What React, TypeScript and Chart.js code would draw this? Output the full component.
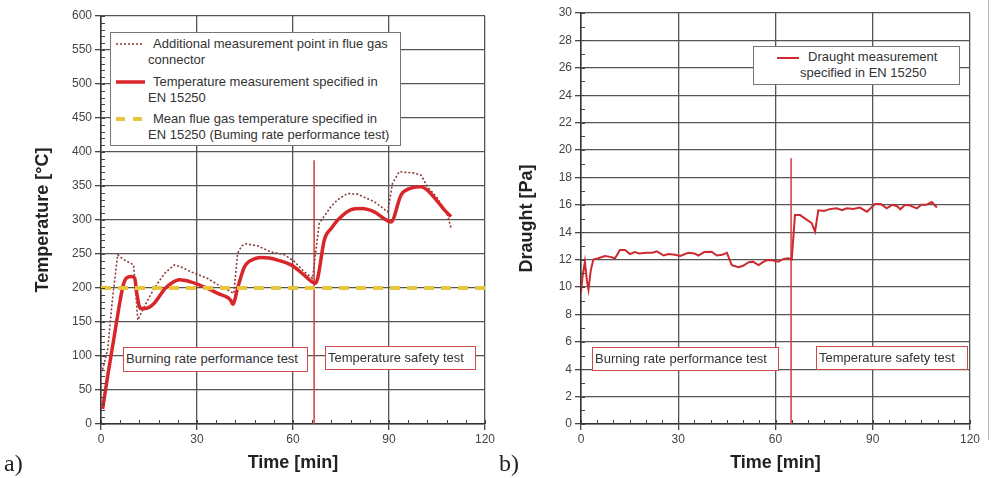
import React, { useEffect, useRef } from 'react';
import { Chart, registerables } from 'chart.js';

Chart.register(...registerables);

const FONT = "'Liberation Sans', Arial, sans-serif";

// ---------- a) Temperature ----------
const timeTicksA = [0, 30, 60, 90, 120];
const timeAdditional = [0.5, 2.1, 3.5, 5.2, 7, 10.2, 11.5, 13.5, 15.5, 17.7, 20, 22.9, 25, 28, 33.3, 36.5, 39.6, 41.5, 42.7, 44, 45.3, 49, 53.1, 57.3, 60.4, 63.5, 66.1, 68.2, 71.9, 74, 77, 80.2, 85.4, 89.6, 91.1, 93.2, 97.9, 100, 102, 105, 108.3, 109.4];
const tempAdditional = [80, 110, 180, 249, 242, 234, 153, 172, 190, 207, 222, 234, 231, 224, 214, 205, 197, 192, 251, 262, 265, 262, 253, 249, 239, 224, 214, 295, 320, 330, 339, 338, 327, 312, 354, 371, 369, 366, 349, 333, 307, 288];
const timeSpecified = [0.5, 2, 4, 6, 7, 8, 9.5, 10.5, 11.2, 12.3, 14, 16.7, 19.8, 22, 24.5, 28, 31, 34, 36.5, 39.6, 40.5, 41.2, 42.7, 44.8, 46.3, 48, 50, 52.5, 55.2, 59.4, 63.5, 66.9, 67.7, 69.8, 72, 74, 78, 81.3, 85.4, 88.5, 90.6, 93.8, 96.9, 100, 102, 105.2, 107.3, 109.4];
const tempSpecified = [22, 68, 125, 182, 205, 215, 217, 215, 192, 170, 170, 178, 198, 207, 212, 209, 204, 198, 192, 186, 182, 176, 200, 231, 239, 243, 245, 244, 241, 234, 219, 207, 214, 271, 288, 300, 315, 317, 312, 302, 297, 337, 347, 349, 344, 327, 315, 305];
const meanTime = [0, 120];
const meanTemp = [200, 200];
const splitTimeA = [66.6, 66.6];
const splitTempA = [0, 388];

// ---------- b) Draught ----------
const timeDraught = [0, 0.5, 1.2, 1.8, 2.3, 3, 3.8, 5.3, 7.4, 9, 10.5, 12, 13.6, 15.1, 16.5, 18, 20, 22, 23.4, 25.5, 27, 29, 30.6, 33.1, 35, 36.2, 38, 40.3, 41.9, 43.5, 45, 46.5, 48.6, 50, 51.6, 53, 54.8, 56, 57.3, 59, 60.9, 62.5, 64, 65, 66, 67.6, 69.7, 71.2, 72.2, 73.2, 75, 77, 78.9, 80.5, 82, 84, 86, 88.2, 90.7, 92.5, 94.3, 96, 97.5, 98.5, 100, 101.5, 103.6, 105, 106.5, 108.2, 109.8];
const draught = [9.6, 10.8, 11.85, 10.5, 9.8, 11.2, 12.0, 12.1, 12.26, 12.2, 12.1, 12.7, 12.7, 12.4, 12.55, 12.45, 12.5, 12.5, 12.6, 12.3, 12.4, 12.35, 12.26, 12.5, 12.45, 12.3, 12.55, 12.58, 12.3, 12.35, 12.5, 11.6, 11.44, 11.55, 11.8, 11.85, 11.6, 11.8, 11.97, 11.95, 11.85, 12.05, 12.1, 12.0, 15.25, 15.25, 14.9, 14.65, 14.04, 15.6, 15.55, 15.7, 15.74, 15.6, 15.75, 15.7, 15.8, 15.5, 16.06, 16.05, 15.74, 16.0, 15.9, 15.67, 16.0, 15.95, 15.74, 16.0, 16.0, 16.2, 15.8];
const splitTimeB = [64.8, 64.8];
const splitDraughtB = [0, 19.4];

const pts = (xs: number[], ys: number[]) => xs.map((x, i) => ({ x, y: ys[i] }));

const minorTicks = {
  id: 'minorTicks',
  afterDraw(chart: any, _args: any, opts: any) {
    const { ctx, chartArea, scales } = chart;
    const x = scales.x;
    const y = scales.y;
    ctx.save();
    ctx.strokeStyle = '#444';
    ctx.lineWidth = 1;
    ctx.beginPath();
    for (let v = x.min; v <= x.max + 1e-9; v += opts.xStep) {
      const px = Math.round(x.getPixelForValue(v)) + 0.5;
      ctx.moveTo(px, chartArea.bottom);
      ctx.lineTo(px, chartArea.bottom - 4);
    }
    for (let v = y.min; v <= y.max + 1e-9; v += opts.yStep) {
      const py = Math.round(y.getPixelForValue(v)) + 0.5;
      ctx.moveTo(chartArea.left, py);
      ctx.lineTo(chartArea.left + 4, py);
    }
    ctx.stroke();
    ctx.restore();
  },
};

function axisX(max: number, step: number) {
  return {
    type: 'linear',
    min: 0,
    max,
    afterBuildTicks: (s: any) => {
      s.ticks = timeTicksA.map((v) => ({ value: v }));
    },
    ticks: { stepSize: step, color: '#444', font: { family: FONT, size: 12 }, padding: 2 },
    grid: { color: '#555', lineWidth: 1.3, tickLength: 6, tickColor: '#444' },
    border: { color: '#333', width: 1.5 },
    title: {
      display: true,
      text: 'Time [min]',
      color: '#222',
      font: { family: FONT, size: 18, weight: 'bold' },
      padding: { top: 0, bottom: 4 },
    },
    afterFit: (s: any) => {
      s.height = 54;
    },
  };
}

function axisY(max: number, step: number, text: string, width: number, titlePad: number) {
  return {
    type: 'linear',
    min: 0,
    max,
    ticks: { stepSize: step, color: '#444', font: { family: FONT, size: 12 }, padding: 3 },
    grid: { color: '#555', lineWidth: 1.3, tickLength: 6, tickColor: '#444' },
    border: { color: '#333', width: 1.5 },
    title: {
      display: true,
      text,
      color: '#222',
      font: { family: FONT, size: 18, weight: 'bold' },
      padding: { top: titlePad, bottom: 0 },
    },
    afterFit: (s: any) => {
      s.width = width;
    },
  };
}

function configA(): any {
  return {
    type: 'line',
    data: {
      datasets: [
        {
          label: 'Mean flue gas temperature specified in EN 15250 (Burning rate performance test)',
          data: pts(meanTime, meanTemp),
          borderColor: '#e8c53a',
          borderWidth: 4,
          borderDash: [10, 7],
          pointRadius: 0,
          tension: 0,
        },
        {
          label: 'Temperature measurement specified in EN 15250',
          data: pts(timeSpecified, tempSpecified),
          borderColor: '#d8262a',
          borderWidth: 3.5,
          pointRadius: 0,
          cubicInterpolationMode: 'monotone',
        },
        {
          label: 'Additional measurement point in flue gas connector',
          data: pts(timeAdditional, tempAdditional),
          borderColor: '#8e3a3a',
          borderWidth: 1.6,
          borderDash: [2, 2],
          pointRadius: 0,
          tension: 0,
        },
        {
          label: 'split',
          data: pts(splitTimeA, splitTempA),
          borderColor: '#d33a3a',
          borderWidth: 1.5,
          pointRadius: 0,
          tension: 0,
        },
      ],
    },
    options: {
      responsive: false,
      animation: false,
      events: [],
      layout: { padding: { left: 0, top: 16, right: 12, bottom: 0 } },
      plugins: {
        legend: { display: false },
        tooltip: { enabled: false },
        minorTicks: { xStep: 6, yStep: 10 },
      },
      scales: {
        x: axisX(120, 30),
        y: axisY(600, 50, 'Temperature [°C]', 101, 32),
      },
    },
    plugins: [minorTicks],
  };
}

function configB(): any {
  return {
    type: 'line',
    data: {
      datasets: [
        {
          label: 'Draught measurement specified in EN 15250',
          data: pts(timeDraught, draught),
          borderColor: '#cc2a2e',
          borderWidth: 2,
          pointRadius: 0,
          tension: 0,
        },
        {
          label: 'split',
          data: pts(splitTimeB, splitDraughtB),
          borderColor: '#d33a3a',
          borderWidth: 1.5,
          pointRadius: 0,
          tension: 0,
        },
      ],
    },
    options: {
      responsive: false,
      animation: false,
      events: [],
      layout: { padding: { left: 0, top: 13, right: 24, bottom: 0 } },
      plugins: {
        legend: { display: false },
        tooltip: { enabled: false },
        minorTicks: { xStep: 5, yStep: 1 },
      },
      scales: {
        x: axisX(120, 30),
        y: axisY(30, 2, 'Draught [Pa]', 84, 19),
      },
    },
    plugins: [minorTicks],
  };
}

function ChartCanvas({ left, build }: { left: number; build: () => any }) {
  const ref = useRef<HTMLCanvasElement | null>(null);
  useEffect(() => {
    if (!ref.current) return;
    const chart = new Chart(ref.current, build());
    return () => chart.destroy();
  }, []);
  return (
    <canvas
      ref={ref}
      width={497}
      height={478}
      style={{ position: 'absolute', left, top: 0, width: 497, height: 478 }}
    />
  );
}

const boxStyle = (left: number, top: number, width: number, height: number): React.CSSProperties => ({
  position: 'absolute',
  left,
  top,
  width,
  height,
  boxSizing: 'border-box',
  border: '1.5px solid #cf4a48',
  background: '#fff',
  font: `13px ${FONT}`,
  color: '#333',
  lineHeight: `${height - 3}px`,
  paddingLeft: 2,
  whiteSpace: 'nowrap',
});

const textLine = (left: number, top: number, indent = 0): React.CSSProperties => ({
  position: 'absolute',
  left: left + indent,
  top,
  font: `13px ${FONT}`,
  color: '#333',
  lineHeight: '16px',
  whiteSpace: 'nowrap',
});

export default function App() {
  return (
    <div style={{ position: 'absolute', left: 0, top: 0, width: 994, height: 478, background: '#fff', overflow: 'hidden' }}>
      <ChartCanvas left={0} build={configA} />
      <ChartCanvas left={497} build={configB} />

      {/* legend a) */}
      <div style={{ position: 'absolute', left: 110, top: 32, width: 291, height: 114, boxSizing: 'border-box', border: '1.5px solid #777', background: '#fff' }} />
      <svg style={{ position: 'absolute', left: 112, top: 36 }} width={36} height={90}>
        <line x1={4} y1={8} x2={30} y2={8} stroke="#8e3a3a" strokeWidth={1.6} strokeDasharray="2 2" />
        <line x1={4} y1={46} x2={33} y2={46} stroke="#d8262a" strokeWidth={3.5} />
        <line x1={4} y1={83} x2={33} y2={83} stroke="#e8c53a" strokeWidth={4} strokeDasharray="9 8" />
      </svg>
      <div style={textLine(148, 36, 5)}>Additional measurement point in flue gas</div>
      <div style={textLine(148, 52)}>connector</div>
      <div style={textLine(148, 74, 5)}>Temperature measurement specified in</div>
      <div style={textLine(148, 90)}>EN 15250</div>
      <div style={textLine(148, 111, 5)}>Mean flue gas temperature specified in</div>
      <div style={textLine(148, 127)}>EN 15250 (Buming rate performance test)</div>

      {/* legend b) */}
      <div style={{ position: 'absolute', left: 753, top: 46, width: 207, height: 39, boxSizing: 'border-box', border: '1.5px solid #777', background: '#fff' }} />
      <svg style={{ position: 'absolute', left: 775, top: 52 }} width={28} height={12}>
        <line x1={2} y1={6} x2={24} y2={6} stroke="#cc2a2e" strokeWidth={2} />
      </svg>
      <div style={textLine(800, 49, 8)}>Draught measurement</div>
      <div style={textLine(800, 65)}>specified in EN 15250</div>

      {/* phase boxes */}
      <div style={boxStyle(123, 347, 185, 25)}>Burning rate performance test</div>
      <div style={boxStyle(325, 346, 151, 24)}>Temperature safety test</div>
      <div style={boxStyle(592, 347, 187, 24)}>Burning rate performance test</div>
      <div style={boxStyle(816, 346, 152, 24)}>Temperature safety test</div>

      {/* panel labels */}
      <div style={{ position: 'absolute', left: 4, top: 450, font: "24px 'Liberation Serif', 'DejaVu Serif', serif", color: '#222' }}>a)</div>
      <div style={{ position: 'absolute', left: 499, top: 450, font: "24px 'Liberation Serif', 'DejaVu Serif', serif", color: '#222' }}>b)</div>

      {/* right frame edge */}
      <div style={{ position: 'absolute', left: 988, top: 0, width: 1, height: 440, background: '#bbb' }} />
    </div>
  );
}
